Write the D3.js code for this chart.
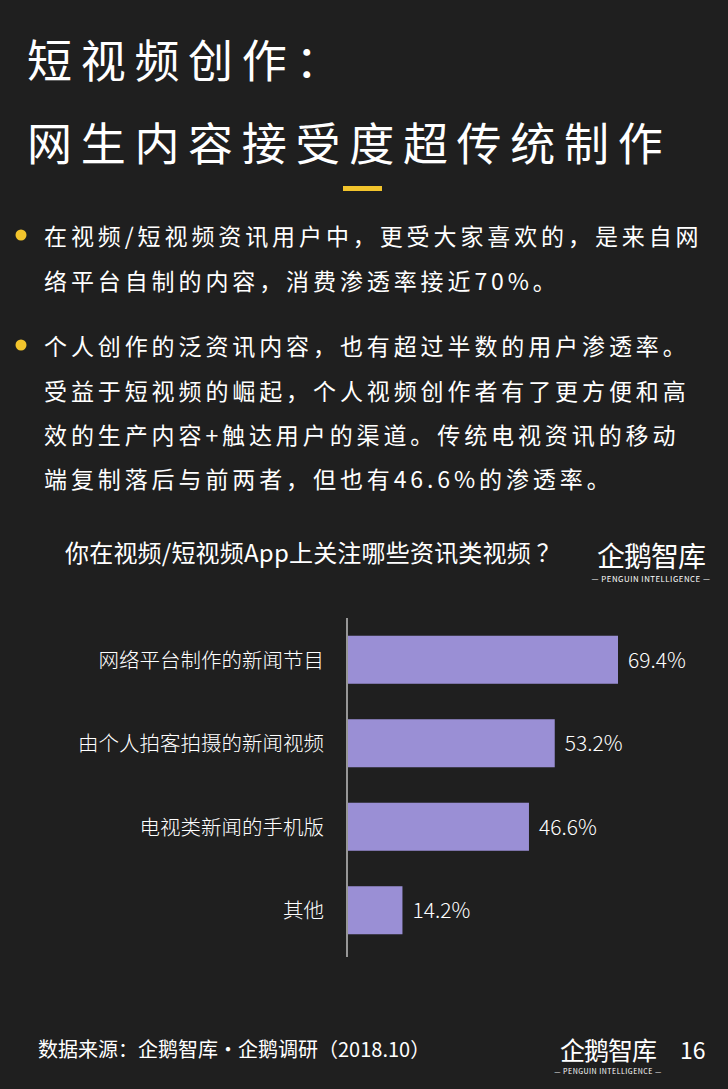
<!DOCTYPE html>
<html>
<head>
<meta charset="utf-8">
<script src="https://d3js.org/d3.v7.min.js"></script>
<style>
  html, body { margin: 0; padding: 0; background: #1f1f1f; }
  svg { display: block; }
  text { font-family: "Noto Sans CJK SC", "Noto Sans", sans-serif; fill: #fff; }
</style>
</head>
<body>
<div id="chart"></div>
<script>
// data
var categories = ["网络平台制作的新闻节目", "由个人拍客拍摄的新闻视频", "电视类新闻的手机版", "其他"];
var values = [69.4, 53.2, 46.6, 14.2];

var titleLines = ["短视频创作：", "网生内容接受度超传统制作"];
var bullets = [
  ["在视频/短视频资讯用户中，更受大家喜欢的，是来自网", "络平台自制的内容，消费渗透率接近70%。"],
  ["个人创作的泛资讯内容，也有超过半数的用户渗透率。", "受益于短视频的崛起，个人视频创作者有了更方便和高",
   "效的生产内容+触达用户的渠道。传统电视资讯的移动", "端复制落后与前两者，但也有46.6%的渗透率。"]
];
var chartTitle = "你在视频/短视频App上关注哪些资讯类视频 ？";
var source = "数据来源：企鹅智库·企鹅调研（2018.10）";
var pageNo = "16";

var W = 728, H = 1089;
var svg = d3.select("#chart").append("svg").attr("width", W).attr("height", H);
svg.append("rect").attr("width", W).attr("height", H).attr("fill", "#1f1f1f");

// heading
svg.selectAll("text.title").data(titleLines).enter().append("text")
  .attr("class", "title")
  .attr("x", 27).attr("y", function(d, i) { return 78 + i * 83; })
  .attr("font-size", 45).attr("letter-spacing", 8.7)
  .text(function(d) { return d; });

svg.append("rect").attr("x", 343).attr("y", 186).attr("width", 39).attr("height", 5).attr("fill", "#f2c42c");

// bullet paragraphs
var lineY = [[245, 290], [355, 400, 444, 488]];
bullets.forEach(function(lines, bi) {
  svg.append("circle").attr("cx", 21).attr("cy", lineY[bi][0] - 10).attr("r", 5.5).attr("fill", "#f2c42c");
  lines.forEach(function(t, li) {
    svg.append("text").attr("x", 44).attr("y", lineY[bi][li])
      .attr("font-size", 23).attr("letter-spacing", 3.9).attr("fill", "#f2f2f2")
      .text(t);
  });
});

// chart title
svg.append("text").attr("x", 65).attr("y", 562).attr("font-size", 24)
  .attr("letter-spacing", 0.2).text(chartTitle);

function logo(g, size) {
  g.append("text").attr("x", 0).attr("y", 0).attr("font-size", size)
    .attr("text-anchor", "middle").attr("letter-spacing", -1).text("企鹅智库");
  g.append("text").attr("x", 0).attr("y", size * 0.55).attr("font-size", size * 0.28)
    .attr("text-anchor", "middle").attr("letter-spacing", 0.5).text("— PENGUIN INTELLIGENCE —");
}
logo(svg.append("g").attr("transform", "translate(651,567)"), 28);
logo(svg.append("g").attr("transform", "translate(608,1060)"), 25);

// bar chart
var x0 = 347, xMax = 347 + 271 / 69.4 * 100;
var x = d3.scaleLinear().domain([0, 100]).range([x0, xMax]);
var y = d3.scaleBand().domain(categories).range([618, 952]).paddingInner(0.425).paddingOuter(0.2125);

svg.append("line").attr("x1", x0).attr("x2", x0).attr("y1", 618).attr("y2", 957)
  .attr("stroke", "#e8e8e8").attr("stroke-width", 1.2);

var rows = categories.map(function(c, i) { return {cat: c, v: values[i]}; });

svg.selectAll("rect.bar").data(rows).enter().append("rect")
  .attr("class", "bar")
  .attr("x", x(0) + 1).attr("y", function(d) { return y(d.cat); })
  .attr("width", function(d) { return x(d.v) - x(0) - 1; })
  .attr("height", y.bandwidth())
  .attr("fill", "#9a8fd5");

svg.selectAll("text.val").data(rows).enter().append("text")
  .attr("class", "val")
  .attr("x", function(d) { return x(d.v) + 10; })
  .attr("y", function(d) { return y(d.cat) + y.bandwidth() / 2 + 8; })
  .attr("font-size", 21).attr("font-weight", 300)
  .text(function(d) { return d.v.toFixed(1) + "%"; });

svg.selectAll("text.cat").data(rows).enter().append("text")
  .attr("class", "cat")
  .attr("x", 324).attr("text-anchor", "end")
  .attr("y", function(d) { return y(d.cat) + y.bandwidth() / 2 + 8; })
  .attr("font-size", 20.5).attr("font-weight", 300)
  .text(function(d) { return d.cat; });

// footer
svg.append("text").attr("x", 38).attr("y", 1057).attr("font-size", 20).attr("fill", "#e8e8e8").text(source);
svg.append("text").attr("x", 680).attr("y", 1059).attr("font-size", 23).text(pageNo);
</script>
</body>
</html>
